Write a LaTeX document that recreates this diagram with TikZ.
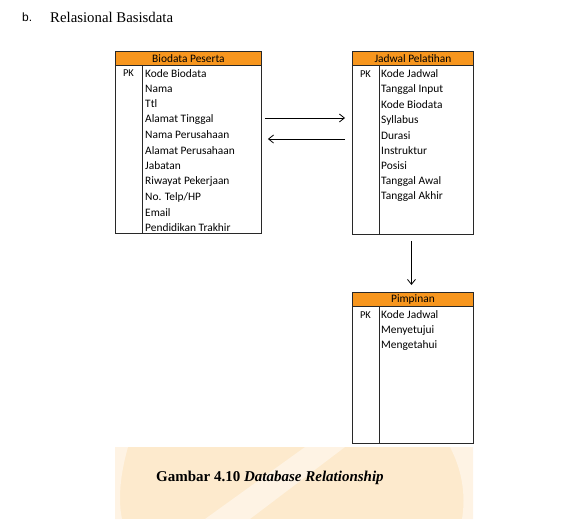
\documentclass[tikz,border=0pt]{standalone}
\usepackage{fontspec}
\setmainfont{Liberation Serif}
\newfontfamily\calfont{Carlito}
\newfontfamily\arialfont{Liberation Sans}
\usetikzlibrary{arrows.meta,calc}
\definecolor{hdr}{RGB}{247,150,30}
\definecolor{wm}{RGB}{253,234,205}
\definecolor{wmlight}{RGB}{254,243,228}
\definecolor{ln}{RGB}{40,40,40}
\begin{document}
\begin{tikzpicture}[x=1pt,y=-1pt,
  tblbox/.style={draw=ln,line width=0.9pt,anchor=north west,inner sep=0pt,rectangle},
  hdrbox/.style={draw=ln,line width=0.9pt,fill=hdr,anchor=north west,inner sep=0pt,rectangle,minimum height=14pt,font=\calfont\fontsize{11.4}{12}\selectfont},
  field/.style={anchor=west,inner sep=0pt,font=\calfont\fontsize{11.4}{12}\selectfont},
  pk/.style={anchor=center,inner sep=0pt,font=\calfont\fontsize{10.5}{12}\selectfont},
  divline/.style={draw=ln,line width=0.9pt},
  rel/.style={draw=black,line width=0.8pt,-{Straight Barb[length=5pt,width=8pt]}}
]
\useasboundingbox (0,0) rectangle (585,519);
% watermark
\fill[wm] (115,447) rectangle (473,519);
\fill[wmlight] (205,519) -- (250,519) -- (345,447) -- (305,447) -- cycle;
\fill[wmlight] (115,447) -- (128,447) .. controls (120,475) and (118,500) .. (122,519) -- (115,519) -- cycle;
\fill[wmlight] (450,447) .. controls (462,470) and (466,495) .. (462,519) -- (473,519) -- (473,447) -- cycle;

% title
\node[anchor=west,inner sep=0pt,font=\arialfont\fontsize{12}{14}\selectfont] (tb) at (22,17) {b.};
\node[anchor=west,inner sep=0pt,font=\fontsize{14.8}{16}\selectfont] (tt) at (50,17) {Relasional Basisdata};

% Biodata Peserta
\node[tblbox,minimum width=146pt,minimum height=182pt] (bio) at (115,51) {};
\node[hdrbox,minimum width=146pt] (bioh) at (115,51) {Biodata Peserta};
\draw[divline] ($(bio.south west)+(27,0)$) -- ($(bioh.south west)+(27,0)$);
\node[pk] (biopk) at (128.5,73.5) {PK};
\node[field] (b1) at (145,73.5) {Kode Biodata};
\node[field] (b2) at (145,89) {Nama};
\node[field] (b3) at (145,104) {Ttl};
\node[field] (b4) at (145,119.5) {Alamat Tinggal};
\node[field] (b5) at (145,135) {Nama Perusahaan};
\node[field] (b6) at (145,150.5) {Alamat Perusahaan};
\node[field] (b7) at (145,166) {Jabatan};
\node[field] (b8) at (145,181.5) {Riwayat Pekerjaan};
\node[field] (b9) at (145,197) {No. Telp/HP};
\node[field] (b10) at (145,212.5) {Email};
\node[field] (b11) at (145,227.5) {Pendidikan Trakhir};

% Jadwal Pelatihan
\node[tblbox,minimum width=121pt,minimum height=183pt] (jad) at (352,51) {};
\node[hdrbox,minimum width=121pt] (jadh) at (352,51) {Jadwal Pelatihan};
\draw[divline] ($(jad.south west)+(27,0)$) -- ($(jadh.south west)+(27,0)$);
\node[pk] (jadpk) at (365.5,74) {PK};
\node[field] (j1) at (381,74) {Kode Jadwal};
\node[field] (j2) at (381,89.5) {Tanggal Input};
\node[field] (j3) at (381,104.5) {Kode Biodata};
\node[field] (j4) at (381,120) {Syllabus};
\node[field] (j5) at (381,135.5) {Durasi};
\node[field] (j6) at (381,150.5) {Instruktur};
\node[field] (j7) at (381,166) {Posisi};
\node[field] (j8) at (381,181.5) {Tanggal Awal};
\node[field] (j9) at (381,196.5) {Tanggal Akhir};

% Pimpinan
\node[tblbox,minimum width=121pt,minimum height=151pt] (pim) at (352,292) {};
\node[hdrbox,minimum width=121pt] (pimh) at (352,292) {Pimpinan};
\draw[divline] ($(pim.south west)+(27,0)$) -- ($(pimh.south west)+(27,0)$);
\node[pk] (pimpk) at (365.5,315) {PK};
\node[field] (p1) at (381,315) {Kode Jadwal};
\node[field] (p2) at (381,330.5) {Menyetujui};
\node[field] (p3) at (381,346) {Mengetahui};

% relations
\coordinate (r1s) at ($(bio.north east)+(3,67)$);
\coordinate (r2e) at ($(bio.north east)+(6,88)$);
\draw[rel] (r1s) -- ($(jad.north west |- r1s)+(-7,0)$);
\draw[rel] ($(jad.north west |- r2e)+(-7,0)$) -- (r2e);
\draw[rel] ($(jad.south)+(-1.5,6)$) -- ($(pimh.north)+(-1.5,-7)$);

% caption
\node[anchor=west,inner sep=0pt,font=\bfseries\fontsize{15}{17}\selectfont] (cap) at (156,478) {Gambar 4.10 \textit{Database Relationship}};
\end{tikzpicture}
\end{document}
